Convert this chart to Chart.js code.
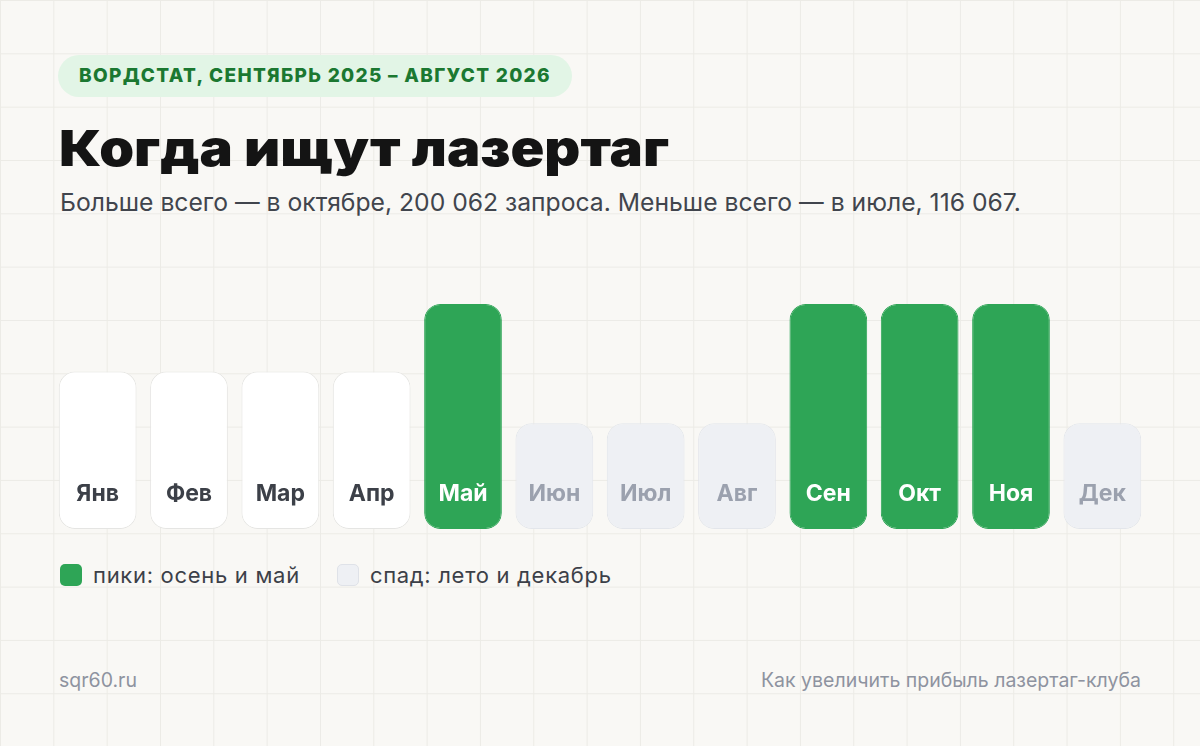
<!DOCTYPE html>
<html lang="ru">
<head>
<meta charset="utf-8">
<title>Когда ищут лазертаг</title>
<script src="https://cdn.jsdelivr.net/npm/chart.js@4.4.1/dist/chart.umd.min.js"></script>
<style>
    html, body {
        margin: 0;
        padding: 0;
    }
    body {
        width: 1200px;
        height: 746px;
        overflow: hidden;
        font-family: Inter, "Noto Sans", sans-serif;
        background-color: #f9f8f5;
        background-image:
            linear-gradient(to right, #ecebe6 1px, transparent 1px),
            linear-gradient(to bottom, #ecebe6 1px, transparent 1px);
        background-size: 53.33px 53.33px;
        position: relative;
    }
    .badge {
        position: absolute;
        left: 58px;
        top: 55px;
        height: 42px;
        width: 514px;
        box-sizing: border-box;
        border-radius: 21px;
        background: #e2f5e6;
        color: #1b7831;
        font-weight: 800;
        font-size: 19px;
        letter-spacing: 1.3px;
        line-height: 42px;
        text-align: center;
    }
    .title {
        position: absolute;
        left: 59px;
        top: 118px;
        margin: 0;
        font-size: 50px;
        font-weight: 900;
        line-height: 60px;
        color: #141414;
        transform-origin: left center;
        white-space: nowrap;
    }
    .subtitle {
        position: absolute;
        left: 60px;
        top: 186px;
        font-size: 24.7px;
        line-height: 32px;
        color: #41454d;
        white-space: nowrap;
    }
    #chart-box {
        position: absolute;
        left: 52px;
        top: 304px;
        width: 1096px;
        height: 225px;
    }
    .legend {
        position: absolute;
        left: 60px;
        top: 562px;
        display: flex;
        align-items: center;
        font-size: 22px;
        letter-spacing: 0.7px;
        color: #3c4048;
    }
    .legend .sw {
        width: 22px;
        height: 22px;
        border-radius: 5px;
        box-sizing: border-box;
        margin-right: 11px;
    }
    .legend .item {
        display: flex;
        align-items: center;
        margin-right: 37px;
    }
    .footer {
        position: absolute;
        top: 666px;
        font-size: 19.5px;
        line-height: 28px;
        color: #8e93a0;
    }
</style>
</head>
<body>
    <div class="badge">ВОРДСТАТ, СЕНТЯБРЬ 2025 – АВГУСТ 2026</div>
    <h1 class="title" id="title">Когда ищут лазертаг</h1>
    <div class="subtitle">Больше всего — в октябре, 200 062 запроса. Меньше всего — в июле, 116 067.</div>

    <div id="chart-box"><canvas id="season-chart"></canvas></div>

    <div class="legend">
        <div class="item"><div class="sw" style="background:#2ea556"></div>пики: осень и май</div>
        <div class="item"><div class="sw" style="background:#eef0f4;border:1px solid #dfe2e8"></div>спад: лето и декабрь</div>
    </div>

    <div class="footer" style="left:59px">sqr60.ru</div>
    <div class="footer" style="right:59px">Как увеличить прибыль лазертаг-клуба</div>

<script>
// Months and relative search level (index, peak = 100)
const months = ['Янв', 'Фев', 'Мар', 'Апр', 'Май', 'Июн', 'Июл', 'Авг', 'Сен', 'Окт', 'Ноя', 'Дек'];
const levels = [70, 70, 70, 70, 100, 47, 47, 47, 100, 100, 100, 47];
const groups = ['mid', 'mid', 'mid', 'mid', 'peak', 'low', 'low', 'low', 'peak', 'peak', 'peak', 'low'];

const palette = {
    peak: { fill: '#2ea556', border: '#2ea556', text: '#ffffff' },
    mid:  { fill: '#ffffff', border: '#e5e5e3', text: '#3c4048' },
    low:  { fill: '#eef0f4', border: '#e3e6eb', text: '#9ba1ae' }
};

// stretch the title a bit, the original uses a wide display face
const titleEl = document.getElementById('title');
const titleWidth = titleEl.getBoundingClientRect().width;
titleEl.style.transform = 'scaleX(' + (610 / titleWidth) + ')';

// month names inside the bars
const barLabels = {
    id: 'barLabels',
    afterDatasetsDraw(chart) {
        const ctx = chart.ctx;
        const meta = chart.getDatasetMeta(0);
        ctx.save();
        ctx.font = '700 23px Inter, "Noto Sans", sans-serif';
        ctx.textAlign = 'center';
        ctx.textBaseline = 'middle';
        meta.data.forEach((bar, i) => {
            ctx.fillStyle = palette[groups[i]].text;
            ctx.fillText(months[i], bar.x, chart.chartArea.bottom - 35);
        });
        ctx.restore();
    }
};

new Chart(document.getElementById('season-chart'), {
    type: 'bar',
    data: {
        labels: months,
        datasets: [{
            data: levels,
            backgroundColor: groups.map(g => palette[g].fill),
            borderColor: groups.map(g => palette[g].border),
            borderWidth: 1,
            borderRadius: 16,
            borderSkipped: false,
            categoryPercentage: 1,
            barPercentage: 0.851
        }]
    },
    options: {
        responsive: true,
        maintainAspectRatio: false,
        animation: false,
        layout: { padding: 0 },
        plugins: {
            legend: { display: false },
            tooltip: { enabled: false }
        },
        scales: {
            x: { display: false },
            y: { display: false, min: 0, max: 100 }
        }
    },
    plugins: [barLabels]
});
</script>
</body>
</html>
